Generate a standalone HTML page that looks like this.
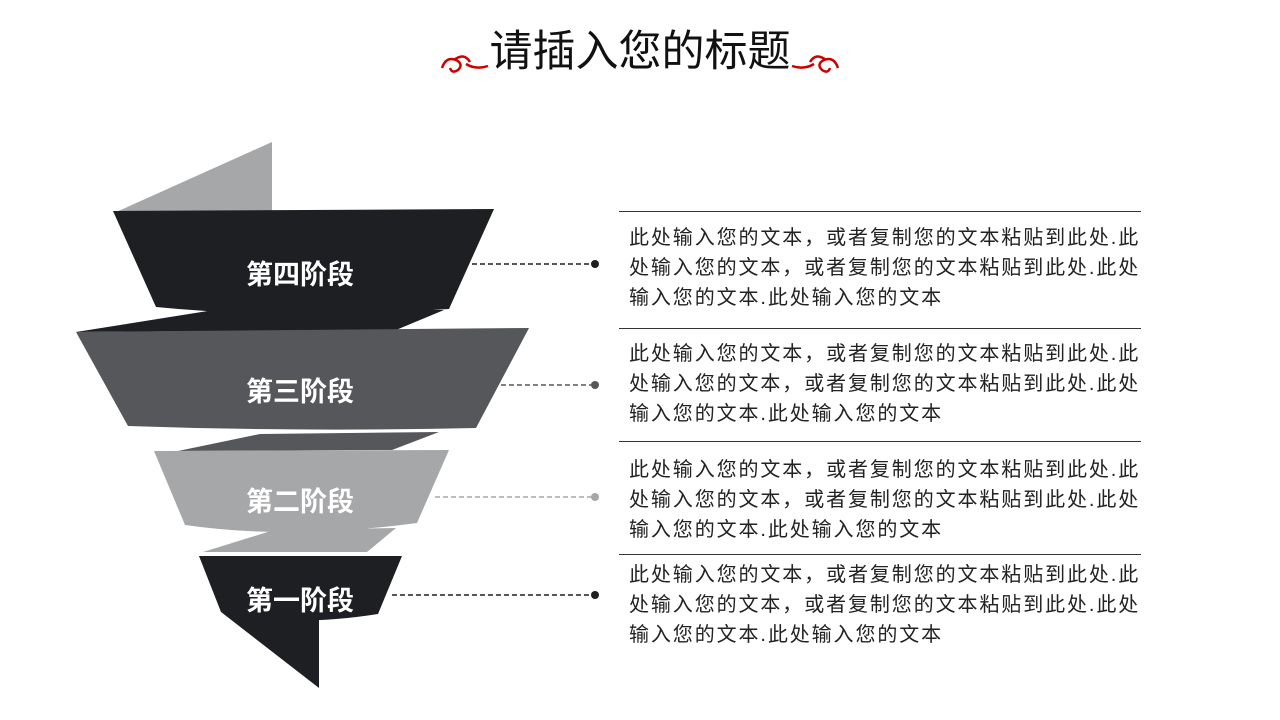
<!DOCTYPE html>
<html><head><meta charset="utf-8"><style>
body{margin:0;width:1280px;height:720px;background:#fff;overflow:hidden;position:relative;font-family:"Liberation Sans","Noto Sans CJK SC",sans-serif}
.t{position:absolute;left:629px;font-size:20px;letter-spacing:1.9px;line-height:30px;color:#222;white-space:nowrap}
.hl{position:absolute;left:619px;width:522px;height:1px;background:#333}
.lb{position:absolute;width:200px;text-align:center;left:200px;color:#fff;font-weight:bold;font-size:27px}
</style></head><body>
<div style="position:absolute;left:0;width:1280px;top:22px;text-align:center;font-size:43px;color:#111;line-height:60px">请插入您的标题</div>
<svg width="1280" height="720" style="position:absolute;left:0;top:0">
<g fill="none" stroke="#c00" stroke-width="2.5">
<path d="M442 68 q4 -12 14 -8 q8 4 2 10 q-6 4 -8 -2 M454 60 q10-8 16 2 M466 64 q10 6 22 2"/>
<path d="M838 68 q-4 -12 -14 -8 q-8 4 -2 10 q6 4 8 -2 M826 60 q-10-8 -16 2 M814 64 q-10 6 -22 2"/>
</g>
<polygon points="272,142 272,213 114,213" fill="#a6a7a9"/>
<polygon points="214,310 444,310 396,330 76,332" fill="#1e1f22"/>
<path d="M113,211 L494,209 L449,309 Q289,320 156,307 Z" fill="#1e1f22"/>
<polygon points="260,434 439,432 392,450 178,451" fill="#56575a"/>
<path d="M76,332 L529,328 L476,428 Q300,432 128,426 Z" fill="#56575a"/>
<polygon points="274,530 396,528 367,552 203,552" fill="#a6a7a9"/>
<path d="M154,451 L449,450 L417,523 Q289,540 185,525 Z" fill="#a6a7a9"/>
<polygon points="221,612 319,620 319,688" fill="#1e1f22"/>
<path d="M199,556 L402,556 L378,614 Q289,628 221,612 Z" fill="#1e1f22"/>
<g stroke-dasharray="5,3" stroke-width="1.5">
<line x1="472" y1="264" x2="594" y2="264" stroke="#1e1f22"/>
<line x1="501" y1="385" x2="594" y2="385" stroke="#56575a"/>
<line x1="435" y1="497" x2="594" y2="497" stroke="#a6a7a9"/>
<line x1="392" y1="595" x2="594" y2="595" stroke="#1e1f22"/>
</g>
<circle cx="595" cy="264" r="4" fill="#1e1f22"/>
<circle cx="595" cy="385" r="4" fill="#56575a"/>
<circle cx="595" cy="497" r="4" fill="#a6a7a9"/>
<circle cx="595" cy="595" r="4" fill="#1e1f22"/>
</svg>
<div class="lb" style="top:253px">第四阶段</div>
<div class="lb" style="top:370px">第三阶段</div>
<div class="lb" style="top:480px">第二阶段</div>
<div class="lb" style="top:579px">第一阶段</div>
<div class="hl" style="top:211px"></div>
<div class="hl" style="top:328px"></div>
<div class="hl" style="top:441px"></div>
<div class="hl" style="top:554px"></div>
<div class="t" style="top:223px">此处输入您的文本，或者复制您的文本粘贴到此处.此<br>处输入您的文本，或者复制您的文本粘贴到此处.此处<br>输入您的文本.此处输入您的文本</div>
<div class="t" style="top:339px">此处输入您的文本，或者复制您的文本粘贴到此处.此<br>处输入您的文本，或者复制您的文本粘贴到此处.此处<br>输入您的文本.此处输入您的文本</div>
<div class="t" style="top:455px">此处输入您的文本，或者复制您的文本粘贴到此处.此<br>处输入您的文本，或者复制您的文本粘贴到此处.此处<br>输入您的文本.此处输入您的文本</div>
<div class="t" style="top:560px">此处输入您的文本，或者复制您的文本粘贴到此处.此<br>处输入您的文本，或者复制您的文本粘贴到此处.此处<br>输入您的文本.此处输入您的文本</div>
</body></html>
